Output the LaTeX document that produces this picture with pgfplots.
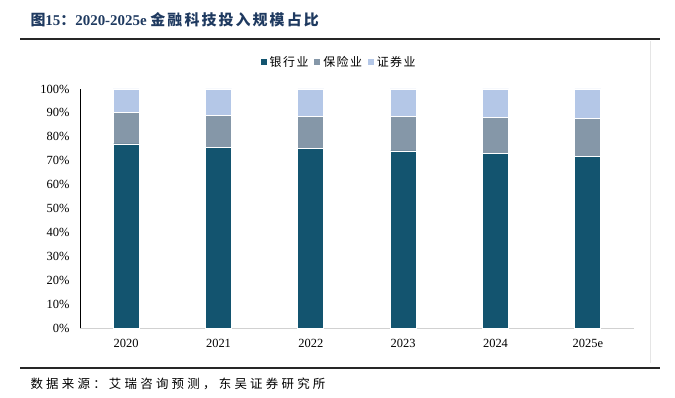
\documentclass[border=0pt]{standalone}
\usepackage{pgfplots}
\pgfplotsset{compat=1.18}
\usepackage{fontspec}
\setmainfont{Liberation Serif}
\newfontfamily\cjk{Noto Sans CJK SC}
\newfontfamily\cjksp[LetterSpace=26]{Noto Sans CJK SC}
\newfontfamily\cjkleg[LetterSpace=12]{Noto Sans CJK SC}
\newfontfamily\cjktitle[LetterSpace=14]{Noto Sans CJK SC}
\definecolor{bank}{HTML}{13546F}
\definecolor{ins}{HTML}{8597A8}
\definecolor{sec}{HTML}{B4C7E7}
\definecolor{titlec}{HTML}{1F3A60}
\begin{document}
\begin{tikzpicture}[x=1bp,y=1bp]
\path (0,0) rectangle (675,397);
% rules
\draw[line width=2bp, black!85] (20,358) -- (660,358);
\draw[line width=1.6bp, black!85] (20,29) -- (660,29);
\draw[line width=0.6bp, black!10] (650,356) -- (650,34);
\node[anchor=west, text=titlec, font=\fontsize{15}{17}\selectfont\bfseries] at (27,377)
  {{\cjk 图}15{\cjk ：}2020-2025e {\cjktitle 金融科技投入规模占比}};
\node[anchor=west, font=\fontsize{12.5}{14}\selectfont\cjksp] at (27,13)
  {数据来源：艾瑞咨询预测，东吴证券研究所};
\begin{axis}[
  at={(80bp,69bp)}, anchor=south west,
  scale only axis, width=554bp, height=239bp,
  ybar stacked, bar width=26bp,
  xmin=-0.5, xmax=5.5, ymin=0, ymax=100,
  xtick={0,1,2,3,4,5},
  xticklabels={2020,2021,2022,2023,2024,2025e},
  ytick={0,10,20,30,40,50,60,70,80,90,100},
  yticklabel={\pgfmathprintnumber{\tick}\%},
  /pgf/number format/assume math mode=true,
  tick label style={font=\fontsize{12.5}{14}\selectfont},
  major tick length=0pt,
  axis y line=none,
  axis x line*=bottom,
  x axis line style={draw=black!18, line width=0.8bp, -},
  ytick style={draw=none}, xtick style={draw=none},
  yticklabel style={anchor=east, xshift=-7bp},
  xticklabel style={yshift=-8bp},
  hide y axis=false,
  legend columns=-1,
  legend style={draw=none, at={(0.467,1.113)}, anchor=center,
    font=\fontsize{12}{13}\selectfont\cjkleg,
    /tikz/every even column/.append style={column sep=3bp}},
  legend image code/.code={\fill[#1] (-3bp,-3.5bp) rectangle (4bp,3.5bp);},
]
\addplot[fill=bank, draw=white, line width=0.8bp] coordinates {(0,77.0) (1,75.6) (2,75.3) (3,74.1) (4,73.1) (5,71.8)};
\addplot[fill=ins, draw=white, line width=0.8bp] coordinates {(0,13.3) (1,13.4) (2,13.4) (3,14.3) (4,14.9) (5,15.8)};
\addplot[fill=sec, draw=white, line width=0.8bp] coordinates {(0,9.7) (1,11.0) (2,11.3) (3,11.6) (4,12.0) (5,12.4)};
\legend{银行业,保险业,证券业}
\end{axis}
\end{tikzpicture}
\end{document}
